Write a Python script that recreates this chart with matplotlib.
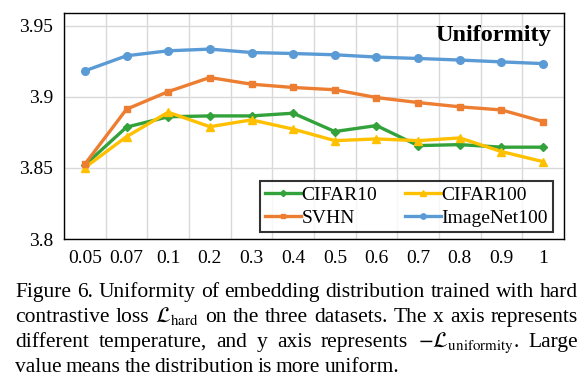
import matplotlib
matplotlib.use("Agg")
import matplotlib.pyplot as plt
import numpy as np

plt.rcParams["font.family"] = ["Liberation Serif", "DejaVu Serif"]
plt.rcParams["mathtext.fontset"] = "stix"

temps = ["0.05", "0.07", "0.1", "0.2", "0.3", "0.4", "0.5", "0.6", "0.7", "0.8", "0.9", "1"]
cifar10 = [3.852, 3.8787, 3.886, 3.8866, 3.8866, 3.8885, 3.8756, 3.8798, 3.8657, 3.8664, 3.8646, 3.8646]
cifar100 = [3.8502, 3.872, 3.8892, 3.879, 3.8838, 3.8773, 3.8692, 3.8704, 3.8692, 3.8711, 3.8615, 3.8544]
svhn = [3.8526, 3.8913, 3.9037, 3.9136, 3.9089, 3.9066, 3.905, 3.8995, 3.896, 3.893, 3.8908, 3.8826]
imagenet100 = [3.9183, 3.9289, 3.9324, 3.9336, 3.9312, 3.9305, 3.9296, 3.928, 3.927, 3.9259, 3.9246, 3.9234]
yticks = [3.8, 3.85, 3.9, 3.95]
ytick_labels = ["3.8", "3.85", "3.9", "3.95"]

caption = [
    "Figure 6. Uniformity of embedding distribution trained with hard",
    r"contrastive loss $\mathcal{L}_{\mathrm{hard}}$ on the three datasets. The x axis represents",
    r"different temperature, and y axis represents $-\mathcal{L}_{\mathrm{uniformity}}$. Large",
    "value means the distribution is more uniform.",
]

W, H = 588, 390
fig = plt.figure(figsize=(W / 100, H / 100), dpi=100)
ax = fig.add_axes([64 / W, 1 - 239 / H, (564 - 64) / W, (239 - 13) / H])

x = np.arange(len(temps))
series = [
    (cifar10, "CIFAR10", "#33a23a", "D", 4.5),
    (cifar100, "CIFAR100", "#ffc000", "^", 5.5),
    (svhn, "SVHN", "#ed7d31", "s", 5),
    (imagenet100, "ImageNet100", "#5b9bd5", "o", 5.5),
]
lines = {}
for vals, name, col, mk, ms in series:
    lines[name], = ax.plot(x, vals, color=col, lw=2.4, marker=mk, ms=ms, label=name,
                           solid_joinstyle="round")

ax.set_xlim(-0.5, len(temps) - 0.5)
ax.set_ylim(3.8, 3.959)
ax.set_xticks(x)
ax.set_xticklabels(temps)
ax.set_xticks(np.arange(len(temps) + 1) - 0.5, minor=True)
ax.set_yticks(yticks)
ax.set_yticklabels(ytick_labels)
ax.tick_params(which="both", length=0, labelsize=14)
ax.tick_params(axis="x", pad=8)
ax.tick_params(axis="y", pad=8)
ax.grid(False)
ax.grid(axis="x", which="minor", color="#d9d9d9", lw=1)
ax.grid(axis="y", which="major", color="#d9d9d9", lw=1)
ax.set_axisbelow(True)
for s in ax.spines.values():
    s.set_color("black")
    s.set_linewidth(1.0)

ax.text(0.975, 0.9, "Uniformity", transform=ax.transAxes, ha="right", va="center",
        fontsize=17.5, fontweight="bold")

# column-first fill -> row 1: CIFAR10, CIFAR100; row 2: SVHN, ImageNet100
order = ["CIFAR10", "SVHN", "CIFAR100", "ImageNet100"]
leg = ax.legend([lines[n] for n in order], order, ncol=2, loc="lower right",
                bbox_to_anchor=(0.978, 0.031),
                fontsize=14, frameon=True, fancybox=False, edgecolor="black",
                handlelength=1.85, handletextpad=0.05, columnspacing=1.4,
                labelspacing=0.3, borderpad=0.25, borderaxespad=0, markerscale=0.7)
leg.get_frame().set_linewidth(1.5)

# justified caption
renderer = fig.canvas.get_renderer()
left, right = 15, 578
baselines = [297, 322, 347, 372]
for i, (line, yb) in enumerate(zip(caption, baselines)):
    parts = line.split(" ")
    merged = []
    buf = ""
    for p in parts:
        if buf:
            buf += " " + p
            if buf.count("$") % 2 == 0:
                merged.append(buf)
                buf = ""
        elif p.count("$") % 2 == 1:
            buf = p
        else:
            merged.append(p)
    texts = [fig.text(0, 1 - yb / H, w, fontsize=15.5, va="baseline", ha="left")
             for w in merged]
    widths = [t.get_window_extent(renderer).width for t in texts]
    if i < len(caption) - 1:
        gap = (right - left - sum(widths)) / (len(texts) - 1)
    else:
        gap = 3.9
    xpos = left
    for t, wd in zip(texts, widths):
        t.set_x(xpos / W)
        xpos += wd + gap

fig.savefig("out.png", dpi=100)
